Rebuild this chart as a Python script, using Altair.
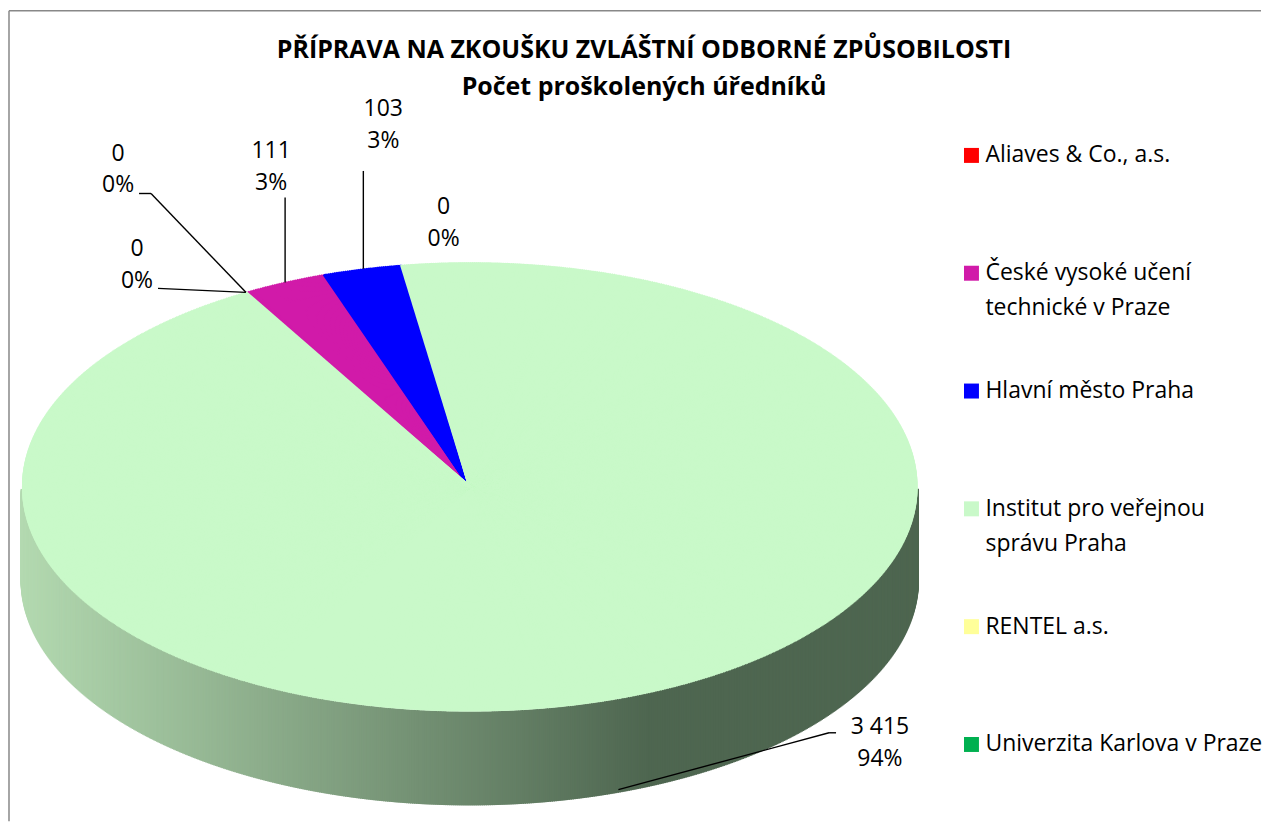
import altair as alt
import pandas as pd

# ---------------- data ----------------
categories = [
    "Aliaves & Co., a.s.",
    "České vysoké učení technické v Praze",
    "Hlavní město Praha",
    "Institut pro veřejnou správu Praha",
    "RENTEL a.s.",
    "Univerzita Karlova v Praze",
]
values = [0, 111, 103, 3415, 0, 0]
colors = ["#ff0000", "#d11aa9", "#0000ff", "#c9f9c9", "#ffff99", "#00b050"]
title_lines = ["PŘÍPRAVA NA ZKOUŠKU ZVLÁŠTNÍ ODBORNÉ ZPŮSOBILOSTI", "Počet proškolených úředníků"]

# ---------------- layout / style ----------------
W, H = 1255, 814
FONT = "Open Sans"
LBL_SIZE = 23
LEG_SIZE = 23
TITLE_SIZE = 25
START = -30.0      # first slice start angle (deg, clockwise from 12 o'clock)
STEP = 0.25        # angular sampling of the drawn surface
DEPTH = 0.418      # side-wall depth in y units
X_DOM = [-1.0312, 1.7670]
Y_DOM = [-1.4889, 2.1289]

xs = alt.Scale(domain=X_DOM, nice=False, zero=False)
ys = alt.Scale(domain=Y_DOM, nice=False, zero=False)

df = pd.DataFrame({"cat": categories, "value": values, "idx": list(range(len(categories)))})

base = (
    alt.Chart(df)
    .transform_joinaggregate(total="sum(value)")
    .transform_window(cum="sum(value)", sort=[alt.SortField("idx", order="ascending")], frame=[None, 0])
    .transform_calculate(
        a0=f"{START} + 360*(datum.cum - datum.value)/datum.total",
        a1=f"{START} + 360*datum.cum/datum.total",
    )
)

samples = (
    base.transform_calculate(steps=f"sequence(datum.a0, datum.a1, {STEP})")
    .transform_flatten(["steps"], as_=["t"])
    .transform_calculate(
        X="sin(datum.t*PI/180)",
        Y="cos(datum.t*PI/180)",
        cx="0",
        cy="0",
    )
)

# side wall (front half), shaded left->right
side = (
    samples.transform_filter("datum.Y < -0.005")
    .transform_calculate(Yb=f"datum.Y - {DEPTH}")
    .mark_rule(strokeWidth=3)
    .encode(
        x=alt.X("X:Q", scale=xs, axis=None),
        y=alt.Y("Y:Q", scale=ys, axis=None),
        y2=alt.Y2("Yb:Q"),
        stroke=alt.Stroke(
            "X:Q",
            scale=alt.Scale(domain=[-1, 0.4], range=["#b3d9b0", "#4e6650"], clamp=True, interpolate="rgb"),
            legend=None,
        ),
    )
)

# top face: radial fill
top = samples.mark_rule(strokeWidth=3).encode(
    x=alt.X("cx:Q", scale=xs, axis=None),
    x2=alt.X2("X:Q"),
    y=alt.Y("cy:Q", scale=ys, axis=None),
    y2=alt.Y2("Y:Q"),
    color=alt.Color("cat:N", scale=alt.Scale(domain=categories, range=colors), legend=None),
)

# label anchors
lab = base.transform_calculate(
    mid="(datum.a0 + datum.a1)/2",
    X="sin(datum.mid*PI/180)",
    Y="cos(datum.mid*PI/180)",
).transform_calculate(
    Ya=f"datum.Y < 0 ? datum.Y - {DEPTH} : datum.Y",
    txt="replace(format(datum.value, ',d'), ',', ' ') + '\\n' + format(datum.value/datum.total, '.0%')",
)

# (category, dx, dy, leader segments as (x0, y0, x1, y1) pixel offsets from anchor)
label_layout = [
    ("Aliaves & Co., a.s.", -128, -139, [(0, 0, -95, -99), (-95, -99, -107, -99)]),
    ("České vysoké učení technické v Praze", -13, -132, [(1, 0, 1, -85)]),
    ("Hlavní město Praha", 21, -160, [(1, 0, 1, -98)]),
    ("Institut pro veřejnou správu Praha", 262, -66, [(0, -3, 211, -60), (211, -60, 218, -60)]),
    ("RENTEL a.s.", -109, -43, [(0, 0, -88, -4)]),
    ("Univerzita Karlova v Praze", 198, -85, []),
]

label_layers = []
for cat, dx, dy, segs in label_layout:
    sub = lab.transform_filter(alt.datum.cat == cat)
    for (a, b, c, d) in segs:
        label_layers.append(
            sub.mark_rule(color="black", strokeWidth=1.4, xOffset=a, yOffset=b, x2Offset=c, y2Offset=d).encode(
                x=alt.X("X:Q", scale=xs, axis=None),
                y=alt.Y("Ya:Q", scale=ys, axis=None),
                x2=alt.X2("X:Q"),
                y2=alt.Y2("Ya:Q"),
            )
        )
    label_layers.append(
        sub.mark_text(
            dx=dx, dy=dy, lineBreak="\n", lineHeight=32, font=FONT, fontSize=LBL_SIZE,
            align="center", baseline="middle", color="black",
        ).encode(
            x=alt.X("X:Q", scale=xs, axis=None),
            y=alt.Y("Ya:Q", scale=ys, axis=None),
            text="txt:N",
        )
    )

# legend (drawn)
leg_df = pd.DataFrame({"cat": categories})
leg_base = alt.Chart(leg_df).encode(
    y=alt.Y("cat:N", sort=categories, scale=alt.Scale(type="point", range=[147, 737], padding=0), axis=None)
)
leg_sq = leg_base.mark_square(size=225, opacity=1).encode(
    x=alt.value(965),
    color=alt.Color("cat:N", scale=alt.Scale(domain=categories, range=colors), legend=None),
)
leg_tx = leg_base.transform_calculate(
    lbl="replace(replace(datum.cat, 'učení ', 'učení\\n'), 'veřejnou ', 'veřejnou\\n')"
).mark_text(
    align="left", baseline="middle", lineBreak="\n", lineHeight=35, font=FONT, fontSize=LEG_SIZE, color="black"
).encode(x=alt.value(979), text="lbl:N")

# title
title = alt.Chart(pd.DataFrame({"t": ["\n".join(title_lines)]})).mark_text(
    align="center", baseline="middle", lineBreak="\n", lineHeight=37,
    font=FONT, fontSize=TITLE_SIZE, fontWeight="bold", color="black",
).encode(x=alt.value(637), y=alt.value(41), text="t:N")

# frame lines (top & left)
frame_df = pd.DataFrame({"k": [0]})
frame_v = alt.Chart(frame_df).mark_rule(color="#888888", strokeWidth=1.5).encode(
    x=alt.value(1), y=alt.value(2), y2=alt.value(H)
)
frame_h = alt.Chart(frame_df).mark_rule(color="#888888", strokeWidth=1.5).encode(
    x=alt.value(1), x2=alt.value(W), y=alt.value(2)
)

chart = (
    alt.layer(side, top, *label_layers, leg_sq, leg_tx, title, frame_v, frame_h)
    .resolve_scale(x="independent", y="independent")
    .properties(width=W, height=H, padding=0, background="white")
    .configure_view(stroke=None)
)

chart.save("out.html", embed_options={"renderer": "svg", "actions": False})
